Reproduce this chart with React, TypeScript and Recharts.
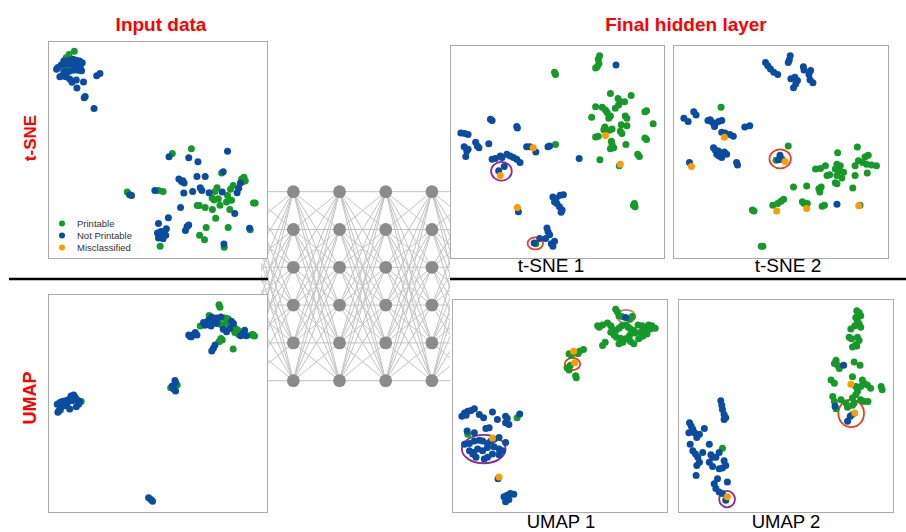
import React from 'react';
import { ScatterChart, Scatter, XAxis, YAxis, ReferenceArea, ReferenceLine } from 'recharts';

type Pt = { x: number; y: number };
const toPts = (a: number[][]): Pt[] => a.map(([x, y]) => ({ x, y }));

const GREEN = '#17982a';
const BLUE = '#0b4ca0';
const ORANGE = '#ff9c00';
const PURPLE = '#932a8f';
const RED = '#ef3b1f';
const BROWN = '#b88a6c';

// ---------- Input data: t-SNE ----------
const inTsneX = [145, 805];
const inTsneY = [122, 778];
const inTsneGreen = [[222,150],[206,160],[197,170],[200,205],[578,448],[520,462],[383,580],[478,575],[492,578],[656,567],[650,578],[641,598],[647,604],[660,600],[688,590],[697,571],[705,560],[731,540],[738,535],[742,545],[736,548],[767,613],[772,613],[596,621],[602,621],[620,627],[642,633],[665,620],[685,610],[695,633],[652,660],[623,688],[603,712],[618,725],[690,688],[757,695],[678,748],[483,745],[670,522],[700,605]];
const inTsneBlue = [[190,180],[205,178],[218,175],[228,178],[238,180],[246,185],[182,192],[172,200],[168,205],[195,190],[210,190],[225,192],[240,198],[244,210],[232,208],[218,208],[205,212],[190,212],[178,228],[186,225],[196,228],[208,235],[215,245],[228,238],[250,244],[230,262],[255,288],[252,292],[290,225],[300,218],[282,325],[510,472],[570,475],[598,487],[688,455],[675,518],[595,532],[620,532],[540,540],[548,548],[556,552],[552,545],[390,588],[396,590],[467,575],[555,583],[582,578],[605,567],[610,575],[632,582],[672,580],[717,582],[722,568],[727,552],[545,627],[710,645],[508,658],[478,676],[475,705],[480,712],[485,718],[492,722],[500,712],[495,700],[502,692],[490,708],[485,700],[478,720],[565,685],[570,680],[560,697],[755,690],[677,738]];
const inTsneOrange: number[][] = [];

// ---------- Final hidden layer: t-SNE 1 ----------
const tsne1X = [30, 675];
const tsne1Y = [45, 688];
const tsne1Green = [[482,75],[478,85],[480,98],[475,108],[470,112],[345,125],[348,132],[515,190],[578,196],[538,205],[545,215],[558,215],[540,225],[470,230],[490,232],[500,240],[505,248],[530,235],[625,242],[620,245],[458,262],[510,265],[515,258],[560,258],[565,265],[548,285],[565,288],[498,292],[495,300],[512,302],[520,298],[645,282],[545,305],[550,312],[470,322],[478,320],[620,325],[625,330],[518,335],[520,345],[525,355],[515,358],[562,345],[483,392],[598,375],[603,382],[348,345],[588,525],[590,535],[585,530],[288,648],[542,410]];
const tsne1Blue = [[532,103],[420,388],[150,268],[155,272],[230,290],[232,295],[60,310],[72,312],[82,315],[105,338],[110,350],[115,355],[145,343],[70,352],[78,365],[82,360],[75,382],[260,352],[270,352],[288,368],[325,352],[330,350],[155,390],[165,388],[180,380],[185,385],[200,375],[210,380],[220,385],[230,390],[240,400],[175,425],[192,412],[235,550],[340,505],[350,510],[362,500],[372,498],[345,520],[352,525],[360,535],[368,545],[365,552],[322,600],[325,610],[330,620],[318,632],[300,632],[345,640],[340,655],[335,648],[283,645]];
const tsne1Orange = [[500,318],[545,405],[280,355],[180,440],[232,537]];
const tsne1Rings = [[152,215,398,455],[263,310,628,665]];
const tsne1RingColors = [PURPLE, RED];

// ---------- Final hidden layer: t-SNE 2 ----------
const tsne2X = [25, 672];
const tsne2Y = [45, 688];
const tsne2Green = [[168,232],[335,393],[372,350],[522,370],[582,353],[605,383],[615,378],[585,395],[598,400],[610,405],[625,408],[640,410],[575,410],[612,432],[575,440],[520,405],[530,410],[515,420],[525,425],[540,430],[535,447],[520,440],[455,420],[470,418],[485,410],[490,440],[498,437],[472,475],[465,480],[468,490],[428,472],[388,475],[515,462],[520,465],[568,478],[263,545],[268,548],[325,530],[340,525],[350,518],[358,512],[415,520],[420,525],[430,525],[475,533],[482,530],[590,530],[290,655],[295,655]];
const tsne2Blue = [[303,95],[310,105],[318,115],[328,125],[340,132],[378,75],[375,88],[372,95],[418,108],[420,118],[440,120],[435,132],[447,157],[438,148],[380,145],[392,140],[400,150],[395,160],[388,172],[55,265],[68,275],[85,245],[92,255],[128,272],[135,270],[142,278],[150,282],[160,275],[170,272],[148,290],[170,308],[180,310],[195,315],[205,320],[240,292],[255,288],[145,355],[150,362],[155,375],[162,380],[170,385],[160,365],[178,368],[185,375],[215,400],[218,408],[72,400],[347,378],[342,392],[354,391],[520,527]];
const tsne2Orange = [[178,323],[78,412],[362,397],[337,548],[428,540],[586,532]];
const tsne2Rings = [[315,380,360,418]];
const tsne2RingColors = [RED];

// ---------- Input data: UMAP ----------
const inUmapX = [145, 805];
const inUmapY = [58, 715];
const inUmapGreen = [[662,88],[665,95],[632,120],[605,152],[660,140],[668,148],[680,128],[690,130],[685,140],[695,145],[675,152],[700,155],[712,160],[720,165],[710,172],[722,178],[765,178],[770,183],[760,180],[668,190],[662,200],[672,195],[705,222],[180,408],[243,382],[515,340],[535,332]];
const inUmapBlue = [[640,125],[630,135],[615,142],[620,150],[648,140],[655,145],[638,152],[655,128],[668,125],[700,138],[706,145],[695,160],[740,165],[735,175],[685,170],[675,162],[570,180],[578,185],[585,178],[590,172],[595,180],[575,185],[650,210],[645,220],[640,228],[728,182],[745,182],[170,390],[178,385],[185,382],[195,380],[205,376],[212,365],[220,362],[225,370],[232,378],[238,382],[235,390],[228,398],[208,405],[195,395],[180,400],[175,410],[172,415],[190,390],[215,380],[200,388],[528,318],[530,325],[520,335],[525,345],[530,350],[522,340],[448,675],[455,680],[460,685]];
const inUmapOrange: number[][] = [];

// ---------- Final hidden layer: UMAP 1 ----------
const umap1X = [35, 683];
const umap1Y = [42, 683];
const umap1Green = [[530,70],[535,78],[540,90],[548,92],[572,100],[580,92],[475,120],[480,125],[490,118],[505,112],[515,120],[520,130],[530,135],[540,128],[548,120],[560,118],[568,125],[575,130],[585,135],[598,118],[610,120],[620,125],[630,118],[640,120],[650,128],[635,130],[618,135],[605,140],[588,142],[572,150],[560,160],[552,170],[545,158],[532,155],[525,148],[515,140],[498,170],[490,180],[540,175],[575,168],[585,175],[600,160],[612,152],[625,145],[388,205],[395,210],[420,198],[432,192],[415,205],[392,240],[382,248],[388,255],[408,272],[410,278],[230,400],[80,450]];
const umap1Blue = [[560,95],[70,385],[80,380],[90,378],[100,372],[62,395],[75,392],[115,390],[128,400],[155,382],[170,405],[195,395],[200,402],[195,415],[205,420],[238,388],[135,432],[145,430],[100,445],[78,440],[70,480],[85,478],[100,470],[115,468],[125,470],[140,478],[150,470],[160,465],[175,460],[195,475],[85,500],[98,505],[110,495],[125,500],[140,490],[160,488],[175,495],[185,500],[175,512],[155,510],[140,520],[130,525],[105,520],[95,510],[172,585],[190,640],[200,635],[210,630],[220,632],[195,655],[205,648]];
const umap1Orange = [[402,198],[405,233],[155,462],[175,580]];
const umap1Rings = [[533,590,72,112],[375,422,218,255],[62,195,452,538]];
const umap1RingColors = [BROWN, RED, PURPLE];

// ---------- Final hidden layer: UMAP 2 ----------
const umap2X = [38, 685];
const umap2Y = [42, 683];
const umap2Green = [[578,75],[585,80],[590,90],[575,95],[580,105],[585,115],[590,125],[572,120],[560,130],[555,155],[562,160],[580,155],[585,165],[575,178],[565,185],[578,182],[515,225],[510,235],[520,240],[525,250],[570,230],[588,240],[500,285],[510,295],[565,275],[595,285],[600,295],[610,300],[590,305],[580,320],[575,330],[575,305],[620,310],[652,305],[655,315],[505,335],[510,350],[530,345],[545,355],[565,340],[570,355],[590,345],[600,350],[612,350],[565,362],[515,372],[550,368],[565,390],[170,492]];
const umap2Blue = [[538,240],[512,365],[558,395],[550,410],[165,348],[168,362],[170,375],[175,390],[180,400],[175,405],[70,415],[75,425],[80,435],[68,445],[85,445],[100,450],[92,460],[115,432],[72,480],[80,500],[88,510],[95,520],[100,535],[92,545],[90,575],[110,505],[130,480],[135,512],[140,520],[130,535],[140,548],[150,520],[160,505],[175,530],[180,545],[170,552],[160,555],[155,585],[185,595],[145,600],[150,615],[160,625],[170,630],[180,650]];
const umap2Orange = [[560,298],[572,385],[185,640]];
const umap2Rings = [[522,600,345,428],[160,208,622,672]];
const umap2RingColors = [RED, PURPLE];

// ---------- Network ----------
const netLayers = [0, 1, 2, 3];
const netRows = [0, 1, 2, 3, 4, 5];
const netInputLayer = -1;
const netOutputLayer = 4;

const legendNames = ['Printable', 'Not Printable', 'Misclassified'];
const legendColors = [GREEN, BLUE, ORANGE];

const FONT = '"Liberation Sans", Arial, Helvetica, sans-serif';

const dotShape = (color: string) => (p: any) => (
  <circle cx={p.cx} cy={p.cy} r={3.5} fill={color} />
);

const ringShape = (color: string) => (p: any) => (
  <ellipse
    cx={p.x + p.width / 2}
    cy={p.y + p.height / 2}
    rx={Math.abs(p.width) / 2}
    ry={Math.abs(p.height) / 2}
    fill="none"
    stroke={color}
    strokeWidth={1.8}
  />
);

type PanelProps = {
  left: number; top: number; width: number; height: number;
  xDomain: number[]; yDomain: number[];
  green: number[][]; blue: number[][]; orange: number[][];
  rings?: number[][]; ringColors?: string[];
};

function Panel({ left, top, width, height, xDomain, yDomain, green, blue, orange, rings = [], ringColors = [] }: PanelProps) {
  return (
    <div style={{ position: 'absolute', left, top, width, height, border: '1.5px solid #ababab', boxSizing: 'border-box', background: '#fff' }}>
      <ScatterChart width={width - 3} height={height - 3} margin={{ top: 0, right: 0, bottom: 0, left: 0 }}>
        <XAxis type="number" dataKey="x" domain={xDomain as [number, number]} hide />
        <YAxis type="number" dataKey="y" domain={yDomain as [number, number]} reversed hide />
        <Scatter data={toPts(green)} shape={dotShape(GREEN)} isAnimationActive={false} />
        <Scatter data={toPts(blue)} shape={dotShape(BLUE)} isAnimationActive={false} />
        <Scatter data={toPts(orange)} shape={dotShape(ORANGE)} isAnimationActive={false} />
        {rings.map((r, i) => (
          <ReferenceArea key={i} x1={r[0]} x2={r[1]} y1={r[2]} y2={r[3]} shape={ringShape(ringColors[i])} ifOverflow="visible" />
        ))}
      </ScatterChart>
    </div>
  );
}

function Network() {
  const nodes = netLayers.flatMap((l) => netRows.map((r) => ({ x: l, y: r })));
  const cols = [netInputLayer, ...netLayers, netOutputLayer];
  const edges: { a: Pt; b: Pt }[] = [];
  for (let c = 0; c < cols.length - 1; c++) {
    for (const r1 of netRows) for (const r2 of netRows) {
      edges.push({ a: { x: cols[c], y: r1 }, b: { x: cols[c + 1], y: r2 } });
    }
  }
  const xDom: [number, number] = [-0.7, 3.4];
  const yDom: [number, number] = [-0.6, 5.6];
  const sx = 46.2;
  const sy = 37.8;
  const width = (xDom[1] - xDom[0]) * sx;
  const height = (yDom[1] - yDom[0]) * sy;
  return (
    <div style={{ position: 'absolute', left: 293.3 + xDom[0] * sx, top: 191.7 + yDom[0] * sy, width, height, overflow: 'hidden' }}>
      <ScatterChart width={width} height={height} margin={{ top: 0, right: 0, bottom: 0, left: 0 }}>
        <XAxis type="number" dataKey="x" domain={xDom} hide allowDataOverflow />
        <YAxis type="number" dataKey="y" domain={yDom} reversed hide allowDataOverflow />
        {edges.map((e, i) => (
          <ReferenceLine key={i} segment={[e.a, e.b]} stroke="#c2c2c2" strokeWidth={1} ifOverflow="visible" />
        ))}
        <Scatter data={nodes} isAnimationActive={false} shape={(p: any) => <circle cx={p.cx} cy={p.cy} r={6.4} fill="#8b8b8b" />} />
      </ScatterChart>
    </div>
  );
}

export default function App() {
  return (
    <div style={{ position: 'absolute', left: 0, top: 0, width: 906, height: 532, background: '#fff', overflow: 'hidden', fontFamily: FONT }}>
      <Network />
      <Panel left={48} top={41} width={220} height={218} xDomain={inTsneX} yDomain={inTsneY} green={inTsneGreen} blue={inTsneBlue} orange={inTsneOrange} />
      <Panel left={450} top={45} width={215} height={214} xDomain={tsne1X} yDomain={tsne1Y} green={tsne1Green} blue={tsne1Blue} orange={tsne1Orange} rings={tsne1Rings} ringColors={tsne1RingColors} />
      <Panel left={673} top={45} width={216} height={214} xDomain={tsne2X} yDomain={tsne2Y} green={tsne2Green} blue={tsne2Blue} orange={tsne2Orange} rings={tsne2Rings} ringColors={tsne2RingColors} />
      <Panel left={48} top={294} width={220} height={219} xDomain={inUmapX} yDomain={inUmapY} green={inUmapGreen} blue={inUmapBlue} orange={inUmapOrange} />
      <Panel left={452} top={299} width={216} height={214} xDomain={umap1X} yDomain={umap1Y} green={umap1Green} blue={umap1Blue} orange={umap1Orange} rings={umap1Rings} ringColors={umap1RingColors} />
      <Panel left={678} top={299} width={216} height={214} xDomain={umap2X} yDomain={umap2Y} green={umap2Green} blue={umap2Blue} orange={umap2Orange} rings={umap2Rings} ringColors={umap2RingColors} />
      <svg width={906} height={532} style={{ position: 'absolute', left: 0, top: 0, pointerEvents: 'none' }}>
        <line x1={9} y1={279} x2={268} y2={279} stroke="#000" strokeWidth={2.5} />
        <line x1={450} y1={279} x2={906} y2={279} stroke="#000" strokeWidth={2.5} />
        <text x={161} y={31} textAnchor="middle" fontFamily={FONT} fontWeight="bold" fontSize={19} fill="#ff0000">Input data</text>
        <text x={686} y={31} textAnchor="middle" fontFamily={FONT} fontWeight="bold" fontSize={19} fill="#ff0000">Final hidden layer</text>
        <text x={0} y={0} transform="translate(36,138) rotate(-90)" textAnchor="middle" fontFamily={FONT} fontWeight="bold" fontSize={17} fill="#ff0000">t-SNE</text>
        <text x={0} y={0} transform="translate(36,398) rotate(-90)" textAnchor="middle" fontFamily={FONT} fontWeight="bold" fontSize={18} fill="#ff0000">UMAP</text>
        <text x={551} y={272} textAnchor="middle" fontFamily={FONT} fontSize={19} fill="#000">t-SNE 1</text>
        <text x={788} y={272} textAnchor="middle" fontFamily={FONT} fontSize={19} fill="#000">t-SNE 2</text>
        <text x={561} y={528} textAnchor="middle" fontFamily={FONT} fontSize={18.5} fill="#000">UMAP 1</text>
        <text x={786} y={528} textAnchor="middle" fontFamily={FONT} fontSize={18.5} fill="#000">UMAP 2</text>
        {legendNames.map((n, i) => (
          <g key={n}>
            <circle cx={62} cy={223.5 + i * 12} r={3} fill={legendColors[i]} />
            <text x={77} y={226.8 + i * 12} fontFamily={FONT} fontSize={9.5} fill="#333">{n}</text>
          </g>
        ))}
      </svg>
    </div>
  );
}
